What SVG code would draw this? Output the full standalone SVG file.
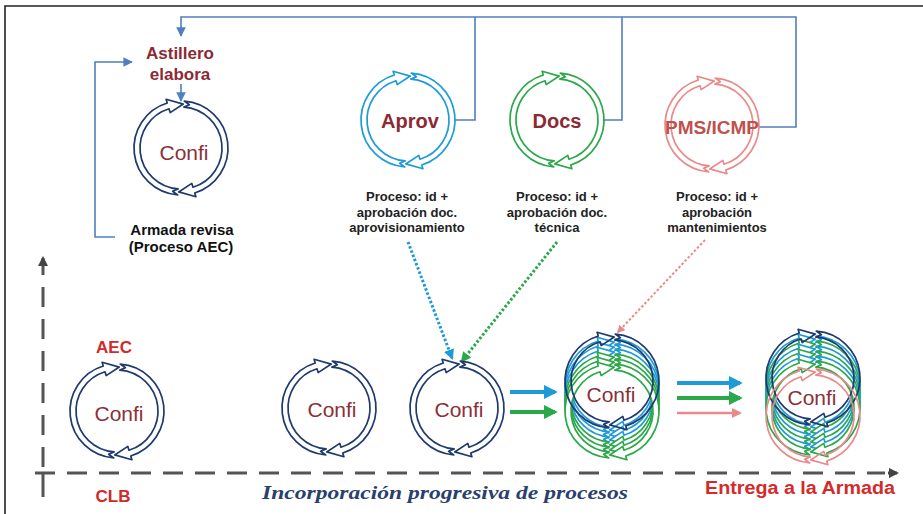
<svg xmlns="http://www.w3.org/2000/svg" width="923" height="514" viewBox="0 0 923 514">
<style>
.lbl{font-family:"Liberation Sans",Arial,sans-serif;text-anchor:middle}
.cf{font-size:21px;fill:#8B3038}
.hd{font-size:17px;font-weight:bold;fill:#8B2A35}
.pr{font-size:13px;font-weight:bold;fill:#222}
.ar{font-size:15px;font-weight:bold;fill:#111}
.red{font-size:17px;font-weight:bold;fill:#D02A2A}
.conn{fill:none;stroke:#4F7FBF;stroke-width:1.6}
.axis{fill:none;stroke:#555;stroke-width:3;stroke-dasharray:20 12}
.c-n{stroke:#1F3A6E}
.c-b{stroke:#1E9BD7}
.c-g{stroke:#2BA84A}
.c-p{stroke:#E88A8A}
.cyc{fill:#fff;stroke-width:1.7;stroke-linejoin:round}
</style>
<defs>
<path id="band" d="M3.28,-46.89 A47,47 0 0 1 13.74,44.94 L14.91,48.77 L-2.30,43.94 L10.82,35.38 L11.99,39.21 A41,41 0 0 0 2.86,-40.90 L8.40,-43.19 Z"/>
<g id="cycle"><use href="#band"/><use href="#band" transform="rotate(180)"/></g>
<marker id="mArr" viewBox="0 0 10 10" refX="9" refY="5" markerWidth="6" markerHeight="6" orient="auto"><path d="M0,0 L10,5 L0,10 Z" fill="#4F7FBF"/></marker>
<marker id="mB" viewBox="0 0 10 10" refX="8" refY="5" markerWidth="3.5" markerHeight="3.5" orient="auto"><path d="M0,0 L10,5 L0,10 Z" fill="#1E9BD7"/></marker>
<marker id="mG" viewBox="0 0 10 10" refX="8" refY="5" markerWidth="3.5" markerHeight="3.5" orient="auto"><path d="M0,0 L10,5 L0,10 Z" fill="#2BA84A"/></marker>
<marker id="mP" viewBox="0 0 10 10" refX="8" refY="5" markerWidth="4" markerHeight="4" orient="auto"><path d="M0,0 L10,5 L0,10 Z" fill="#E88A8A"/></marker>
<marker id="mK" viewBox="0 0 10 10" refX="8" refY="5" markerWidth="3.5" markerHeight="3.5" orient="auto"><path d="M0,0 L10,5 L0,10 Z" fill="#444"/></marker>
</defs>
<rect width="923" height="514" fill="#fff"/>
<path d="M5,514 V6 H923" fill="none" stroke="#222" stroke-width="1.6"/>

<g id="connectors">
<path class="conn" d="M455,120 H475 V17"/>
<path class="conn" d="M603,120 H622 V17"/>
<path class="conn" d="M758,127 H796 V17 H181 V36" marker-end="url(#mArr)"/>
<path class="conn" d="M115,237 H95 V62 H132" marker-end="url(#mArr)"/>
<path class="conn" d="M181,84 V101" marker-end="url(#mArr)"/>
<path d="M408,242 L452,358" fill="none" stroke="#1E9BD7" stroke-width="3" stroke-dasharray="2.5 2" marker-end="url(#mB)"/>
<path d="M557,242 L462,361" fill="none" stroke="#2BA84A" stroke-width="3" stroke-dasharray="2.5 2" marker-end="url(#mG)"/>
<path d="M705,240 L618,332" fill="none" stroke="#E88A8A" stroke-width="2" stroke-dasharray="2.5 2" marker-end="url(#mP)"/>
<path d="M510,392 H555" fill="none" stroke="#1E9BD7" stroke-width="4" marker-end="url(#mB)"/>
<path d="M510,412 H555" fill="none" stroke="#2BA84A" stroke-width="4" marker-end="url(#mG)"/>
<path d="M677,383 H740" fill="none" stroke="#1E9BD7" stroke-width="4" marker-end="url(#mB)"/>
<path d="M677,398 H740" fill="none" stroke="#2BA84A" stroke-width="4" marker-end="url(#mG)"/>
<path d="M677,413 H740" fill="none" stroke="#E88A8A" stroke-width="2.5" marker-end="url(#mP)"/>
<path class="axis" d="M43,467 V262"/>
<path d="M43,266 V258" stroke="#444" stroke-width="3" marker-end="url(#mK)"/>
<path class="axis" d="M35,473 H885"/>
<path d="M888,473 H897" stroke="#444" stroke-width="3" marker-end="url(#mK)"/>
<path d="M43,473 V497" stroke="#555" stroke-width="3"/>
</g>

<g id="node-astillero">
<text class="lbl hd" x="180" y="59">Astillero</text>
<text class="lbl hd" x="180" y="80">elabora</text>
<use href="#cycle" class="cyc c-n" transform="translate(181,148)"/>
<text class="lbl cf" x="184" y="160">Confi</text>
<text class="lbl ar" x="182" y="235">Armada revisa</text>
<text class="lbl ar" x="181" y="252">(Proceso AEC)</text>
</g>

<g id="node-aprov">
<use href="#cycle" class="cyc c-b" transform="translate(408,120)"/>
<text class="lbl" x="410" y="128" style="font-size:20px;font-weight:bold;fill:#8B2A35">Aprov</text>
<text class="lbl pr" x="407" y="201">Proceso: id +</text>
<text class="lbl pr" x="407" y="217">aprobación doc.</text>
<text class="lbl pr" x="407" y="232">aprovisionamiento</text>
</g>

<g id="node-docs">
<use href="#cycle" class="cyc c-g" transform="translate(557,120)"/>
<text class="lbl" x="557" y="128" style="font-size:20px;font-weight:bold;fill:#8B2A35">Docs</text>
<text class="lbl pr" x="557" y="201">Proceso: id +</text>
<text class="lbl pr" x="557" y="217">aprobación doc.</text>
<text class="lbl pr" x="557" y="232">técnica</text>
</g>

<g id="node-pms">
<use href="#cycle" class="cyc c-p" transform="translate(712,125)"/>
<text class="lbl" x="712" y="134" textLength="94" lengthAdjust="spacingAndGlyphs" style="font-size:19px;font-weight:bold;fill:#C0504D">PMS/ICMP</text>
<text class="lbl pr" x="717" y="201">Proceso: id +</text>
<text class="lbl pr" x="717" y="217">aprobación</text>
<text class="lbl pr" x="717" y="232">mantenimientos</text>
</g>

<g id="node-aec">
<text class="lbl red" x="114" y="353">AEC</text>
<use href="#cycle" class="cyc c-n" transform="translate(117,411)"/>
<text class="lbl cf" x="119" y="421">Confi</text>
</g>

<g id="node-confi2">
<use href="#cycle" class="cyc c-n" transform="translate(329,408)"/>
<text class="lbl cf" x="332" y="417">Confi</text>
</g>

<g id="node-confi3">
<use href="#cycle" class="cyc c-n" transform="translate(457,408)"/>
<text class="lbl cf" x="459" y="417">Confi</text>
</g>

<g id="node-stack1">
<use href="#cycle" class="cyc c-b" transform="translate(612,386)"/>
<use href="#cycle" class="cyc c-b" transform="translate(612,391)"/>
<use href="#cycle" class="cyc c-b" transform="translate(612,396)"/>
<use href="#cycle" class="cyc c-g" transform="translate(612,401)"/>
<use href="#cycle" class="cyc c-g" transform="translate(612,406)"/>
<use href="#cycle" class="cyc c-g" transform="translate(612,411)"/>
<use href="#cycle" class="cyc c-n" transform="translate(612,381)" style="fill:none"/>
<text class="lbl cf" x="611" y="402">Confi</text>
</g>

<g id="node-stack2">
<use href="#cycle" class="cyc c-b" transform="translate(813,383)"/>
<use href="#cycle" class="cyc c-g" transform="translate(813,388)"/>
<use href="#cycle" class="cyc c-b" transform="translate(813,393)"/>
<use href="#cycle" class="cyc c-g" transform="translate(813,398)"/>
<use href="#cycle" class="cyc c-b" transform="translate(813,403)"/>
<use href="#cycle" class="cyc c-g" transform="translate(813,408)"/>
<use href="#cycle" class="cyc c-n" transform="translate(813,378)" style="fill:none"/>
<use href="#cycle" class="cyc c-p" transform="translate(813,416)" style="fill:none"/>
<text class="lbl cf" x="812" y="405">Confi</text>
</g>

<g id="axis-labels">
<text class="lbl red" x="113" y="502">CLB</text>
<text x="445" y="499" text-anchor="middle" textLength="366" lengthAdjust="spacingAndGlyphs" style="font-family:'Liberation Serif','Times New Roman',serif;font-style:italic;font-weight:bold;font-size:18px;fill:#2A3F6E">Incorporación progresiva de procesos</text>
<text class="lbl" x="800" y="494" textLength="190" lengthAdjust="spacingAndGlyphs" style="font-size:18px;font-weight:bold;fill:#D42A2A">Entrega a la Armada</text>
</g>
</svg>
